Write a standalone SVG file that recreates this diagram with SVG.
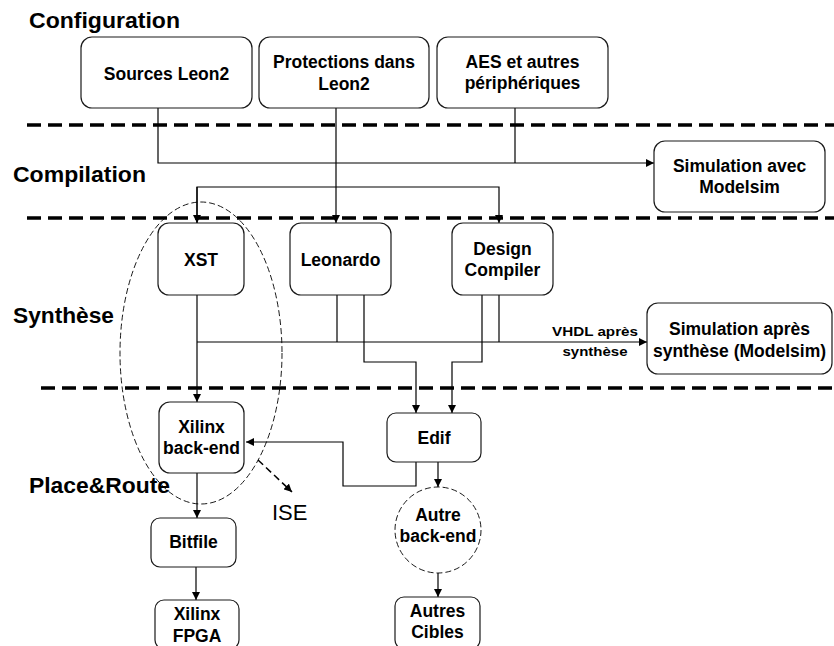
<svg xmlns="http://www.w3.org/2000/svg" width="834" height="646" viewBox="0 0 834 646">
  <defs>
    <style>
      .box { fill: #ffffff; stroke: #1a1a1a; stroke-width: 1.2; }
      .lbl { font-family: "Liberation Sans", Arial, Helvetica, sans-serif; font-weight: bold; font-size: 17.5px; fill: #000; text-anchor: middle; }
      .sec { font-family: "Liberation Sans", Arial, Helvetica, sans-serif; font-weight: bold; font-size: 22px; fill: #000; }
      .small { font-family: "Liberation Sans", Arial, Helvetica, sans-serif; font-weight: bold; font-size: 12.5px; fill: #000; text-anchor: middle; }
      .wire { fill: none; stroke: #000; stroke-width: 1.2; }
      .sep { stroke: #000; stroke-width: 3.5; stroke-dasharray: 14 7; }
      .halo { fill: none; stroke: #000; stroke-width: 0.9; stroke-dasharray: 6 3; }
    </style>
    <marker id="arrow" viewBox="0 0 10 10" refX="10" refY="5" markerWidth="8" markerHeight="8" markerUnits="userSpaceOnUse" orient="auto">
      <path d="M0,0 L10,5 L0,10 z" fill="#000"/>
    </marker>
  </defs>

  <rect width="834" height="646" fill="#ffffff"/>

  <!-- stage separators -->
  <g id="separators">
    <line class="sep" x1="27" y1="125" x2="834" y2="125"/>
    <line class="sep" x1="27" y1="218" x2="834" y2="218"/>
    <line class="sep" x1="41" y1="388" x2="834" y2="388"/>
  </g>

  <!-- stage titles -->
  <g id="stages">
    <text class="sec" x="29" y="28" textLength="151" lengthAdjust="spacingAndGlyphs">Configuration</text>
    <text class="sec" x="13" y="182" textLength="133" lengthAdjust="spacingAndGlyphs">Compilation</text>
    <text class="sec" x="13" y="323" textLength="101" lengthAdjust="spacingAndGlyphs">Synthèse</text>
    <text class="sec" x="29" y="493" textLength="141" lengthAdjust="spacingAndGlyphs">Place&amp;Route</text>
  </g>

  <!-- ISE tool boundary -->
  <g id="ise">
    <ellipse class="halo" cx="201" cy="353" rx="81" ry="151"/>
    <line x1="258" y1="460" x2="292" y2="492" stroke="#000" stroke-width="1.5" stroke-dasharray="7 4" marker-end="url(#arrow)"/>
    <text x="272" y="520" font-family="Liberation Sans, Arial, sans-serif" font-size="22" fill="#000">ISE</text>
  </g>

  <!-- connectors -->
  <g id="connectors">
    <polyline class="wire" points="158,108 158,163 654,163" marker-end="url(#arrow)"/>
    <line class="wire" x1="515" y1="108" x2="515" y2="163"/>
    <line class="wire" x1="336" y1="108" x2="336" y2="223" marker-end="url(#arrow)"/>
    <polyline class="wire" points="197,223 197,187 499,187 499,223" marker-end="url(#arrow)"/>
    <line class="wire" x1="197" y1="187" x2="197" y2="223" marker-end="url(#arrow)"/>

    <line class="wire" x1="197" y1="295" x2="197" y2="402" marker-end="url(#arrow)"/>
    <line class="wire" x1="197" y1="342" x2="647" y2="342" marker-end="url(#arrow)"/>
    <line class="wire" x1="337" y1="295" x2="337" y2="342"/>
    <line class="wire" x1="499" y1="295" x2="499" y2="342"/>
    <polyline class="wire" points="364,295 364,362 416,362 416,413" marker-end="url(#arrow)"/>
    <polyline class="wire" points="482,295 482,362 452,362 452,413" marker-end="url(#arrow)"/>

    <polyline class="wire" points="416,462 416,486 343,486 343,442 246,442" marker-end="url(#arrow)"/>
    <line class="wire" x1="438" y1="462" x2="438" y2="487" marker-end="url(#arrow)"/>
    <line class="wire" x1="438" y1="573" x2="438" y2="597" marker-end="url(#arrow)"/>
    <line class="wire" x1="197" y1="473" x2="197" y2="518" marker-end="url(#arrow)"/>
    <line class="wire" x1="196" y1="567" x2="196" y2="600" marker-end="url(#arrow)"/>

    <text class="small" x="595" y="336" textLength="86" lengthAdjust="spacingAndGlyphs">VHDL après</text>
    <text class="small" x="595" y="356" textLength="65" lengthAdjust="spacingAndGlyphs">synthèse</text>
  </g>

  <!-- configuration sources -->
  <g id="sources-leon2">
    <rect class="box" x="81" y="37" width="171" height="71" rx="11"/>
    <text class="lbl" x="166.5" y="80">Sources Leon2</text>
  </g>
  <g id="protections-leon2">
    <rect class="box" x="259" y="37" width="170" height="71" rx="11"/>
    <text class="lbl" x="344" y="68">Protections dans</text>
    <text class="lbl" x="344" y="90">Leon2</text>
  </g>
  <g id="aes-peripheriques">
    <rect class="box" x="437" y="37" width="171" height="71" rx="11"/>
    <text class="lbl" x="522.5" y="68">AES et autres</text>
    <text class="lbl" x="522.5" y="89">périphériques</text>
  </g>
  <g id="simulation-modelsim">
    <rect class="box" x="654" y="141" width="171" height="71" rx="11"/>
    <text class="lbl" x="739.5" y="172">Simulation avec</text>
    <text class="lbl" x="739.5" y="193">Modelsim</text>
  </g>

  <!-- synthesis tools -->
  <g id="xst">
    <rect class="box" x="158" y="223" width="86" height="72" rx="11"/>
    <text class="lbl" x="201" y="266">XST</text>
  </g>
  <g id="leonardo">
    <rect class="box" x="290" y="223" width="101" height="72" rx="11"/>
    <text class="lbl" x="340.5" y="266">Leonardo</text>
  </g>
  <g id="design-compiler">
    <rect class="box" x="452" y="223" width="101" height="72" rx="11"/>
    <text class="lbl" x="502.5" y="255">Design</text>
    <text class="lbl" x="502.5" y="276">Compiler</text>
  </g>
  <g id="simulation-post-synthese">
    <rect class="box" x="647" y="303" width="185" height="71" rx="11"/>
    <text class="lbl" x="739.5" y="335">Simulation après</text>
    <text class="lbl" x="739.5" y="357">synthèse (Modelsim)</text>
  </g>

  <!-- place & route -->
  <g id="xilinx-backend">
    <rect class="box" x="159" y="402" width="85" height="71" rx="11"/>
    <text class="lbl" x="201.5" y="433">Xilinx</text>
    <text class="lbl" x="201.5" y="454">back-end</text>
  </g>
  <g id="edif">
    <rect class="box" x="387" y="413" width="94" height="49" rx="9"/>
    <text class="lbl" x="434" y="444">Edif</text>
  </g>
  <g id="autre-backend">
    <circle cx="438" cy="530" r="43" fill="#ffffff" stroke="#000" stroke-width="0.9" stroke-dasharray="6 3"/>
    <text class="lbl" x="438" y="521">Autre</text>
    <text class="lbl" x="438" y="542">back-end</text>
  </g>
  <g id="bitfile">
    <rect class="box" x="151" y="518" width="85" height="49" rx="9"/>
    <text class="lbl" x="193.5" y="548">Bitfile</text>
  </g>
  <g id="xilinx-fpga">
    <rect class="box" x="155" y="600" width="84" height="49" rx="9"/>
    <text class="lbl" x="197" y="620">Xilinx</text>
    <text class="lbl" x="197" y="642">FPGA</text>
  </g>
  <g id="autres-cibles">
    <rect class="box" x="395" y="597" width="85" height="52" rx="9"/>
    <text class="lbl" x="437.5" y="617">Autres</text>
    <text class="lbl" x="437.5" y="638">Cibles</text>
  </g>
</svg>
